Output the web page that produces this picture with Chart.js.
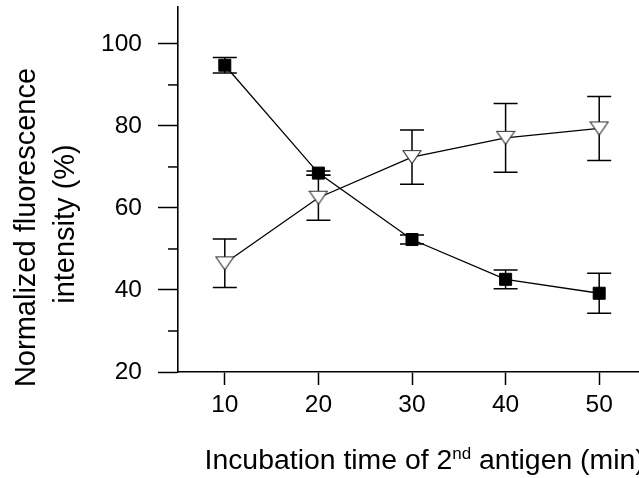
<!DOCTYPE html>
<html>
<head>
<meta charset="utf-8">
<script src="https://cdn.jsdelivr.net/npm/chart.js@4.4.1/dist/chart.umd.min.js"></script>
<style>
    html, body { margin: 0; padding: 0; background: #fff; overflow: hidden; }
    #wrap { width: 646px; height: 478px; }
</style>
</head>
<body>
<div id="wrap"><canvas id="chart" width="646" height="478"></canvas></div>
<script>
// Chart data
const times = [10, 20, 30, 40, 50];
const squareMean = [94.8, 68.5, 52.3, 42.6, 39.2];
const squareErr = [1.9, 0.5, 1.1, 2.3, 4.9];
const triangleMean = [46.5, 62.5, 72.4, 77.1, 79.4];
const triangleErr = [5.9, 5.5, 6.6, 8.4, 7.8];

const xTicks = [10, 20, 30, 40, 50];
const yTicks = [20, 30, 40, 50, 60, 70, 80, 90, 100];

const FONT = "'Liberation Sans', Arial, sans-serif";

// Open down-pointing triangle marker
function makeTriangle() {
    const c = document.createElement('canvas');
    c.width = 20;
    c.height = 16;
    const g = c.getContext('2d');
    g.beginPath();
    g.moveTo(1, 1.5);
    g.lineTo(19, 1.5);
    g.lineTo(10, 14.5);
    g.closePath();
    g.fillStyle = '#fff';
    g.fill();
    g.lineWidth = 1.2;
    g.strokeStyle = '#333';
    g.stroke();
    return c;
}

// Error bars, drawn under the markers
const errorBars = {
    id: 'errorBars',
    beforeDatasetsDraw(chart) {
        const ctx = chart.ctx;
        const xs = chart.scales.x;
        const ys = chart.scales.y;
        const sets = [[squareMean, squareErr], [triangleMean, triangleErr]];
        ctx.save();
        ctx.strokeStyle = '#000';
        ctx.lineWidth = 1.5;
        sets.forEach(([mean, err]) => {
            times.forEach((t, i) => {
                const x = xs.getPixelForValue(t);
                const top = ys.getPixelForValue(mean[i] + err[i]);
                const bot = ys.getPixelForValue(mean[i] - err[i]);
                ctx.beginPath();
                ctx.moveTo(x, top);
                ctx.lineTo(x, bot);
                ctx.moveTo(x - 12, top);
                ctx.lineTo(x + 12, top);
                ctx.moveTo(x - 12, bot);
                ctx.lineTo(x + 12, bot);
                ctx.stroke();
            });
        });
        ctx.restore();
    }
};

// Minor ticks and axis titles
const decorations = {
    id: 'decorations',
    afterDraw(chart) {
        const ctx = chart.ctx;
        const ys = chart.scales.y;
        const left = chart.chartArea.left;
        ctx.save();
        ctx.strokeStyle = '#000';
        ctx.lineWidth = 1.5;
        yTicks.filter(v => v % 20 !== 0).forEach(v => {
            const y = ys.getPixelForValue(v);
            ctx.beginPath();
            ctx.moveTo(left - 10, y);
            ctx.lineTo(left, y);
            ctx.stroke();
        });

        ctx.fillStyle = '#000';
        // x title with superscript
        ctx.textBaseline = 'alphabetic';
        ctx.textAlign = 'left';
        let x = 204.5;
        const base = 469;
        ctx.font = '28.4px ' + FONT;
        ctx.fillText('Incubation time of 2', x, base);
        x += ctx.measureText('Incubation time of 2').width;
        ctx.font = '17px ' + FONT;
        ctx.fillText('nd', x, base - 10);
        x += ctx.measureText('nd').width;
        ctx.font = '28.4px ' + FONT;
        ctx.fillText(' antigen (min)', x, base);

        // y title, two lines
        ctx.font = '29px ' + FONT;
        ctx.textAlign = 'center';
        ctx.save();
        ctx.translate(35, 227.5);
        ctx.rotate(-Math.PI / 2);
        ctx.fillText('Normalized fluorescence', 0, 0);
        ctx.restore();
        ctx.translate(74, 224);
        ctx.rotate(-Math.PI / 2);
        ctx.fillText('intensity (%)', 0, 0);
        ctx.restore();
    }
};

function buildChart() {
    const ctx = document.getElementById('chart');
    new Chart(ctx, {
        type: 'line',
        data: {
            datasets: [
                {
                    data: times.map((t, i) => ({ x: t, y: squareMean[i] })),
                    borderColor: '#000',
                    borderWidth: 1.3,
                    pointStyle: 'rect',
                    pointRadius: 8.5,
                    pointBackgroundColor: '#000',
                    pointBorderColor: '#000',
                    pointBorderWidth: 1,
                    tension: 0
                },
                {
                    data: times.map((t, i) => ({ x: t, y: triangleMean[i] })),
                    borderColor: '#000',
                    borderWidth: 1.3,
                    pointStyle: makeTriangle(),
                    pointRadius: 10,
                    tension: 0
                }
            ]
        },
        options: {
            responsive: false,
            animation: false,
            layout: {
                autoPadding: false,
                padding: { left: 0, right: 0, top: 7, bottom: 0 }
            },
            plugins: {
                legend: { display: false },
                tooltip: { enabled: false }
            },
            scales: {
                x: {
                    type: 'linear',
                    min: 5,
                    max: 55,
                    afterBuildTicks: scale => { scale.ticks = xTicks.map(v => ({ value: v })); },
                    afterFit: scale => {
                        scale.height = 106;
                        scale.paddingLeft = 0;
                        scale.paddingRight = 0;
                    },
                    border: { display: true, color: '#000', width: 1.6 },
                    grid: {
                        drawOnChartArea: false,
                        drawTicks: true,
                        tickLength: 13,
                        tickWidth: 1.5,
                        tickColor: '#000'
                    },
                    ticks: {
                        autoSkip: false,
                        maxRotation: 0,
                        padding: 6,
                        color: '#000',
                        font: { family: FONT, size: 24.5 }
                    }
                },
                y: {
                    min: 20,
                    max: 109,
                    afterBuildTicks: scale => { scale.ticks = yTicks.map(v => ({ value: v })); },
                    afterFit: scale => {
                        scale.width = 178;
                        scale.paddingTop = 0;
                        scale.paddingBottom = 0;
                    },
                    border: { display: true, color: '#000', width: 1.6 },
                    grid: {
                        drawOnChartArea: false,
                        drawTicks: true,
                        tickLength: 20,
                        tickWidth: 1.5,
                        tickColor: c => (c.tick && c.tick.value % 20 === 0 ? '#000' : 'rgba(0,0,0,0)')
                    },
                    ticks: {
                        autoSkip: false,
                        padding: 16,
                        color: '#000',
                        font: { family: FONT, size: 24.5 },
                        callback: v => (v % 20 === 0 ? String(v) : '')
                    }
                }
            }
        },
        plugins: [errorBars, decorations]
    });
}

document.addEventListener('DOMContentLoaded', buildChart);
</script>
</body>
</html>
